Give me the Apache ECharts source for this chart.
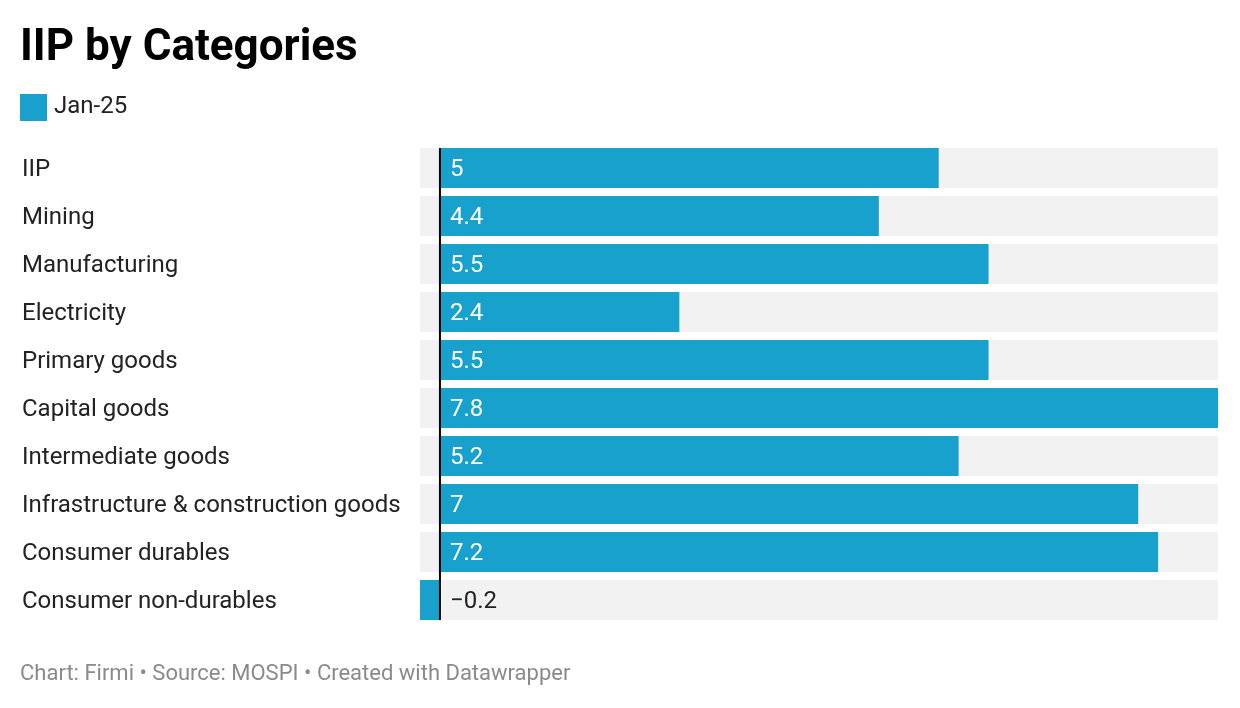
<!DOCTYPE html>
<html>
<head>
<meta charset="utf-8">
<script src="https://cdn.jsdelivr.net/npm/echarts@6/dist/echarts.min.js"></script>
<style>html,body{margin:0;padding:0;background:#fff;}#c{width:1240px;height:708px;}</style>
</head>
<body>
<div id="c"></div>
<script>
const categories = ["IIP","Mining","Manufacturing","Electricity","Primary goods","Capital goods","Intermediate goods","Infrastructure & construction goods","Consumer durables","Consumer non-durables"];
const values = [5, 4.4, 5.5, 2.4, 5.5, 7.8, 5.2, 7, 7.2, -0.2];
const seriesName = "Jan-25";
const titleText = "IIP by Categories";
const footerText = "Chart: Firmi \u2022 Source: MOSPI \u2022 Created with Datawrapper";

const FONT = "Roboto";
const BLUE = "#18a1cd";
const BAR_W = 40;
const chart = echarts.init(document.getElementById('c'));
const staticGraphics = [
  { type: 'text', left: 20, top: 27, style: { text: titleText, font: 'bold 44px Roboto', fill: '#000' } },
  { type: 'rect', shape: { x: 20, y: 94, width: 27, height: 27 }, style: { fill: BLUE } },
  { type: 'text', left: 54, top: 95, style: { text: seriesName, font: '24px Roboto', fill: '#222' } },
  { type: 'text', left: 20, top: 663, style: { text: footerText, font: '22px Roboto', fill: '#8a8a8a' } }
];
chart.setOption({
  animation: false,
  textStyle: { fontFamily: FONT },
  grid: { left: 420, right: 22, top: 144, height: 480 },
  xAxis: { type: 'value', min: -0.2, max: 7.8, show: false },
  yAxis: {
    type: 'category', data: categories, inverse: true, z: 10,
    axisLine: { show: false },
    axisTick: { show: false },
    axisLabel: {
      align: 'left', margin: 398, fontSize: 24, color: '#222', fontFamily: FONT,
      formatter: v => '{a|' + v + '}',
      rich: { a: { fontSize: 24, color: '#222', fontFamily: FONT, padding: [4, 0, 0, 0] } }
    }
  },
  series: [{
    name: seriesName, type: 'bar', barWidth: BAR_W,
    itemStyle: { color: BLUE },
    showBackground: true, backgroundStyle: { color: '#f2f2f2' },
    data: values.map(v => v < 0
      ? { value: v, label: { position: 'right', color: '#222' } }
      : v),
    label: { show: true, position: 'insideLeft', distance: 10, offset: [0, 2], color: '#fff', fontSize: 24, fontFamily: FONT,
      formatter: p => (p.value < 0 ? '\u2212' + Math.abs(p.value) : String(p.value)) }
  }],
  graphic: staticGraphics
});
// zero baseline spanning the bars, positioned through the chart's own scales
const x0 = chart.convertToPixel({ xAxisIndex: 0 }, 0);
const yFirst = chart.convertToPixel({ yAxisIndex: 0 }, 0);
const yLast = chart.convertToPixel({ yAxisIndex: 0 }, categories.length - 1);
chart.setOption({
  graphic: staticGraphics.concat([
    { type: 'line', z: 100, shape: { x1: x0, y1: yFirst - BAR_W / 2, x2: x0, y2: yLast + BAR_W / 2 }, style: { stroke: '#000', lineWidth: 2 } }
  ])
});
</script>
</body>
</html>
